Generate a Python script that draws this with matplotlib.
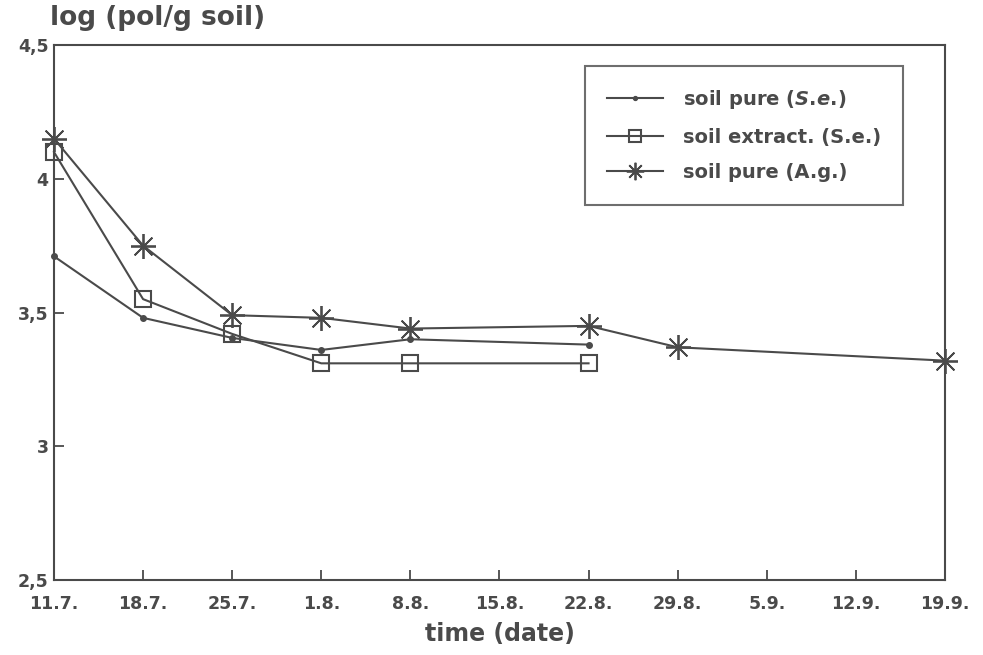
import matplotlib
matplotlib.use("Agg")
import matplotlib.pyplot as plt

# week index of each sampling date
dates = ["11.7.", "18.7.", "25.7.", "1.8.", "8.8.", "15.8.", "22.8.", "29.8.", "5.9.", "12.9.", "19.9."]

x_se_pure = [0, 1, 2, 3, 4, 6]
y_se_pure = [3.71, 3.48, 3.405, 3.36, 3.40, 3.38]

x_se_extract = [0, 1, 2, 3, 4, 6]
y_se_extract = [4.10, 3.55, 3.42, 3.31, 3.31, 3.31]

x_ag_pure = [0, 1, 2, 3, 4, 6, 7, 10]
y_ag_pure = [4.15, 3.75, 3.49, 3.48, 3.44, 3.45, 3.37, 3.32]

y_ticks = [2.5, 3.0, 3.5, 4.0, 4.5]
y_ticklabels = ["2,5", "3", "3,5", "4", "4,5"]

ink = "#4a4a4a"
plt.rcParams["font.family"] = ["DejaVu Sans"]
plt.rcParams["mathtext.fontset"] = "custom"
plt.rcParams["mathtext.it"] = "DejaVu Sans:italic:bold"
plt.rcParams["mathtext.rm"] = "DejaVu Sans:bold"

fig = plt.figure(figsize=(9.83, 6.55), dpi=100)
ax = fig.add_axes([0.0549, 0.1145, 0.9064, 0.8168])

ax.plot(x_se_pure, y_se_pure, color=ink, lw=1.5, marker="o", ms=4,
        mfc=ink, mec=ink, clip_on=False,
        label=r"soil pure ($\mathit{S.\!e.\!}$)")
ax.plot(x_se_extract, y_se_extract, color=ink, lw=1.5, marker="s", ms=12,
        mfc="none", mec=ink, mew=1.5, clip_on=False, label="soil extract. (S.e.)")
ax.plot(x_ag_pure, y_ag_pure, color=ink, lw=1.5, marker=(8, 2, 0), ms=18,
        mec=ink, mew=1.3, clip_on=False, label="soil pure (A.g.)")

ax.set_xlim(0, 10)
ax.set_ylim(2.5, 4.5)
ax.set_xticks(range(len(dates)))
ax.set_xticklabels(dates)
ax.set_yticks(y_ticks)
ax.set_yticklabels(y_ticklabels)

for s in ax.spines.values():
    s.set_color(ink)
    s.set_linewidth(1.5)

ax.tick_params(axis="both", direction="in", length=7, width=1.3, color=ink,
               labelcolor=ink, labelsize=12.5)
ax.tick_params(axis="x", pad=11)
ax.tick_params(axis="y", pad=4)
for lbl in ax.get_xticklabels() + ax.get_yticklabels():
    lbl.set_fontweight("bold")

fig.text(0.051, 0.952, "log (pol/g soil)", fontsize=19, fontweight="bold",
         color=ink, ha="left", va="bottom")
ax.set_xlabel("time (date)", fontsize=17, fontweight="bold", color=ink, labelpad=6)

leg = ax.legend(loc="upper left", bbox_to_anchor=(0.5955, 0.961), frameon=True,
                fancybox=False, edgecolor=ink, prop={"weight": "bold", "size": 14},
                labelcolor=ink, handlelength=2.9, borderpad=1.15, labelspacing=0.85,
                handletextpad=1.0, borderaxespad=0, markerscale=0.7)
leg.get_frame().set_linewidth(1.5)

fig.savefig("out.png", dpi=100)
